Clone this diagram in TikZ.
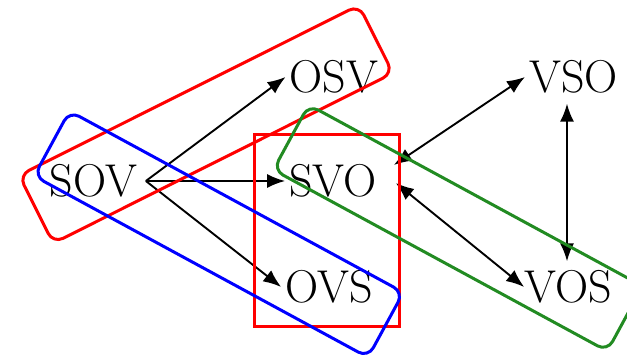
\documentclass[tikz,border=0pt]{standalone}
\usetikzlibrary{arrows.meta}
\definecolor{boxgreen}{RGB}{34,139,34}
\begin{document}
\begin{tikzpicture}[x=1pt,y=1pt,
  word/.style={inner sep=4pt, font=\fontsize{46}{50}\selectfont},
  arr/.style={line width=1.9pt, -{Latex[length=18pt,width=14pt]}},
  arrb/.style={line width=1.9pt, {Latex[length=18pt,width=14pt]}-{Latex[length=18pt,width=14pt]}},
  groupbox/.style={line width=3pt, rounded corners=11pt}]
\useasboundingbox (0,0) rectangle (627,355);
% words
\node[word] (sov) at (93.5,174) {SOV};
\node[word] (osv) at (334,278) {OSV};
\node[word] (svo) at (333,174) {SVO};
\node[word] (vso) at (573.5,278) {VSO};
\node[word] (ovs) at (329,68) {OVS};
\node[word] (vos) at (568.5,68) {VOS};
% connectors
\draw[arr] ([xshift=4.5pt]sov.east) -- (osv.west);
\draw[arr] ([xshift=4.5pt]sov.east) -- (svo.west);
\draw[arr] ([xshift=4.5pt]sov.east) -- (ovs.west);
\draw[arrb] ([xshift=13pt,yshift=16pt]svo.east) -- (vso.west);
\draw[arrb] ([xshift=15pt,yshift=-2pt]svo.east) -- ([xshift=3.5pt]vos.west);
\draw[arrb, shorten <=6pt, shorten >=5pt] ([xshift=-1.5pt]vso.south -| vos.north) -- ([xshift=-1.5pt]vos.north);
% groups
\draw[red, line width=3pt] (254,28) rectangle (399,220);
\draw[red, groupbox, rotate around={26.6:(206,230.75)}] (16,192.75) rectangle (396,268.75);
\draw[blue, groupbox, rotate around={-28.5:(218.75,120.75)}] (28.75,83.75) rectangle (408.75,157.75);
\draw[boxgreen, groupbox, rotate around={-28.5:(458,127)}] (268,90) rectangle (648,164);
\end{tikzpicture}
\end{document}
